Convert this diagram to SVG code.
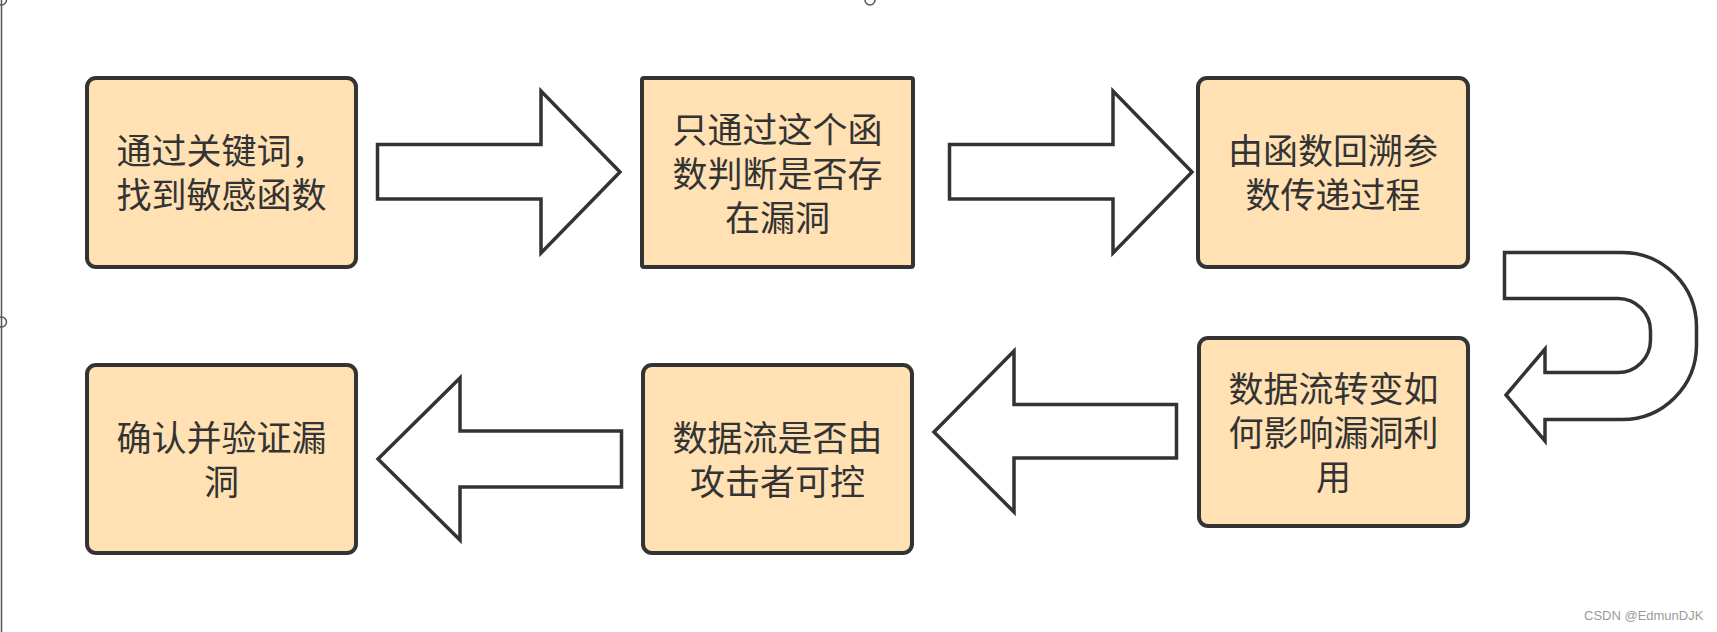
<svg xmlns="http://www.w3.org/2000/svg" width="1717" height="632" viewBox="0 0 1717 632">
<style>
.box{fill:#FFE1B3;stroke:#333333;stroke-width:4}
.arrow{fill:#FFFFFF;stroke:#333333;stroke-width:3.5;stroke-linejoin:miter}
.lbl{font-family:"Noto Sans CJK SC","Noto Sans",sans-serif;font-size:35px;fill:#333333;text-anchor:middle}
.frame{fill:none;stroke:#555555;stroke-width:1.5}
.wm{font-family:"Liberation Sans",Arial,sans-serif;font-size:13px;fill:#9a9a9a}
</style>
<rect x="0" y="0" width="1717" height="632" fill="#FFFFFF"/>
<g id="frame">
<line class="frame" x1="1.5" y1="0" x2="1.5" y2="632"/>
<circle class="frame" cx="1.5" cy="0" r="5" fill="#FFFFFF"/>
<circle class="frame" cx="1.5" cy="322" r="5" fill="#FFFFFF"/>
<circle class="frame" cx="870" cy="0" r="5" fill="#FFFFFF"/>
</g>
<g id="connectors">
<polygon id="a1" class="arrow" points="377.5,144.5 541,144.5 541,91 620,172 541,253 541,199 377.5,199"/>
<polygon id="a2" class="arrow" points="949.5,144.5 1113,144.5 1113,91 1192,172 1113,253 1113,199 949.5,199"/>
<path id="a3" class="arrow" d="M1504.5,252.5 H1622 A74.5,74.5 0 0 1 1696.5,327 V345 A74.5,74.5 0 0 1 1622,419.5 H1545 V441 L1506,395 L1545,349 V372.5 H1618 A32.5,32.5 0 0 0 1650.5,340 V331 A32.5,32.5 0 0 0 1618,298.5 H1504.5 Z"/>
<polygon id="a4" class="arrow" points="1176.5,404.5 1014,404.5 1014,351 934,432 1014,512 1014,458 1176.5,458"/>
<polygon id="a5" class="arrow" points="621.5,431 460,431 460,378 378,459 460,540 460,487 621.5,487"/>
</g>
<g id="n1">
<rect class="box" x="87" y="78" width="269" height="189" rx="9"/>
<text class="lbl" x="221.5" y="164">通过关键词，<tspan x="221.5" dy="44">找到敏感函数</tspan></text>
</g>
<g id="n2">
<rect class="box" x="642" y="78" width="271" height="189" rx="2"/>
<text class="lbl" x="777.5" y="143">只通过这个函<tspan x="777.5" dy="44">数判断是否存</tspan><tspan x="777.5" dy="44">在漏洞</tspan></text>
</g>
<g id="n3">
<rect class="box" x="1198" y="78" width="270" height="189" rx="9"/>
<text class="lbl" x="1333" y="164">由函数回溯参<tspan x="1333" dy="44">数传递过程</tspan></text>
</g>
<g id="n4">
<rect class="box" x="1199" y="338" width="269" height="188" rx="9"/>
<text class="lbl" x="1333.5" y="402">数据流转变如<tspan x="1333.5" dy="44">何影响漏洞利</tspan><tspan x="1333.5" dy="44">用</tspan></text>
</g>
<g id="n5">
<rect class="box" x="643" y="365" width="269" height="188" rx="9"/>
<text class="lbl" x="777.5" y="451">数据流是否由<tspan x="777.5" dy="44">攻击者可控</tspan></text>
</g>
<g id="n6">
<rect class="box" x="87" y="365" width="269" height="188" rx="9"/>
<text class="lbl" x="221.5" y="451">确认并验证漏<tspan x="221.5" dy="44">洞</tspan></text>
</g>
<text class="wm" x="1584" y="620">CSDN @EdmunDJK</text>
</svg>
